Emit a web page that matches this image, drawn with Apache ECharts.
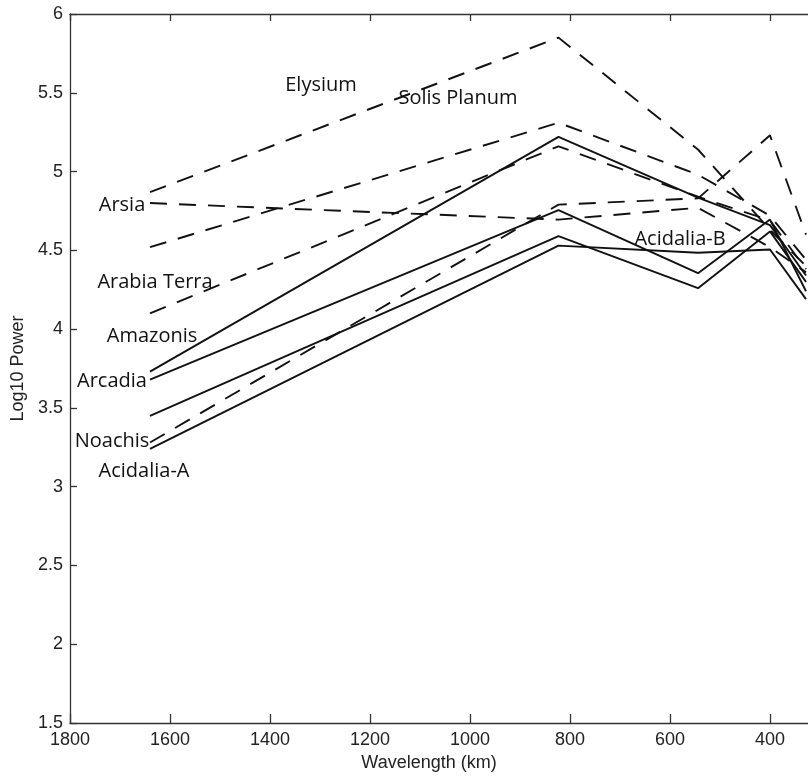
<!DOCTYPE html>
<html>
<head>
<meta charset="utf-8">
<script src="https://cdn.jsdelivr.net/npm/echarts@6/dist/echarts.min.js"></script>
<style>
  html, body { margin: 0; padding: 0; background: #fff; }
  #chart { width: 808px; height: 776px; }
</style>
</head>
<body>
<div id="chart"></div>
<script>
// Wavelengths (km) of the sampled points
const wavelengths = [1640, 823, 544, 400, 328];

// Log10 power per region
const elysium     = [4.87, 5.85, 5.14, 4.63, 4.40];
const arsia       = [4.80, 4.695, 4.77, 4.52, 4.36];
const solisPlanum = [4.52, 5.31, 4.98, 4.72, 4.44];
const arabiaTerra = [4.10, 5.16, 4.84, 4.69, 4.38];
const amazonis    = [3.73, 5.22, 4.835, 4.66, 4.34];
const arcadia     = [3.68, 4.755, 4.355, 4.695, 4.24];
const acidaliaB   = [3.45, 4.59, 4.26, 4.62, 4.30];
const noachis     = [3.28, 4.79, 4.83, 5.23, 4.60];
const acidaliaA   = [3.24, 4.53, 4.485, 4.505, 4.19];

// Axis ranges / ticks
const xMin = 200, xMax = 1800, xStep = 200;
const yMin = 1.5, yMax = 6, yStep = 0.5;

const regionLabels = ['Elysium', 'Solis Planum', 'Arsia', 'Arabia Terra', 'Amazonis',
                      'Arcadia', 'Noachis', 'Acidalia-A', 'Acidalia-B'];

const seriesDefs = [
  { name: 'Elysium', values: elysium, dashed: true },
  { name: 'Arsia', values: arsia, dashed: true },
  { name: 'Solis Planum', values: solisPlanum, dashed: true },
  { name: 'Arabia Terra', values: arabiaTerra, dashed: true },
  { name: 'Amazonis', values: amazonis, dashed: false },
  { name: 'Arcadia', values: arcadia, dashed: false },
  { name: 'Acidalia-B', values: acidaliaB, dashed: false },
  { name: 'Noachis', values: noachis, dashed: true },
  { name: 'Acidalia-A', values: acidaliaA, dashed: false }
];

const chart = echarts.init(document.getElementById('chart'), null, { renderer: 'canvas' });

const axisFont = 'Liberation Sans, Arial, Helvetica, sans-serif';
const labelFont = '"Open Sans", "Noto Sans", sans-serif';

// label placement (pixel positions, style only)
const labelPos = {
  'Elysium': [321, 85],
  'Solis Planum': [458, 98],
  'Arsia': [122, 205],
  'Arabia Terra': [155, 282],
  'Amazonis': [152, 336],
  'Arcadia': [112, 381],
  'Noachis': [112, 441],
  'Acidalia-A': [144, 471],
  'Acidalia-B': [680, 239]
};

const option = {
  animation: false,
  backgroundColor: '#ffffff',
  grid: { left: 70, right: -62, top: 14, bottom: 53, containLabel: false, outerBoundsMode: 'none' },
  xAxis: [
    {
      type: 'value', inverse: true, min: xMin, max: xMax, interval: xStep,
      position: 'bottom',
      name: 'Wavelength (km)', nameLocation: 'middle', nameGap: 30,
      nameTextStyle: { fontFamily: axisFont, fontSize: 18, color: '#222', padding: [0, 82, 0, 0] },
      axisLine: { show: true, lineStyle: { color: '#333', width: 1.3 } },
      axisTick: { show: true, inside: true, length: 9, lineStyle: { color: '#333', width: 1.3 } },
      axisLabel: { fontFamily: axisFont, fontSize: 18, color: '#222', margin: 8, showMinLabel: false,
                   formatter: v => String(v) },
      splitLine: { show: false }
    },
    {
      type: 'value', inverse: true, min: xMin, max: xMax, interval: xStep,
      position: 'top',
      axisLine: { show: true, lineStyle: { color: '#333', width: 1.3 } },
      axisTick: { show: true, inside: true, length: 7, lineStyle: { color: '#333', width: 1.3 } },
      axisLabel: { show: false },
      splitLine: { show: false }
    }
  ],
  yAxis: {
    type: 'value', min: yMin, max: yMax, interval: yStep,
    name: 'Log10 Power', nameLocation: 'middle', nameGap: 43,
    nameTextStyle: { fontFamily: axisFont, fontSize: 18, color: '#222' },
    axisLine: { show: true, lineStyle: { color: '#333', width: 1.3 } },
    axisTick: { show: true, inside: true, length: 7, lineStyle: { color: '#333', width: 1.3 } },
    axisLabel: { fontFamily: axisFont, fontSize: 18, color: '#222', margin: 7 },
    splitLine: { show: false }
  },
  series: seriesDefs.map(d => ({
    name: d.name,
    type: 'line',
    xAxisIndex: 0,
    data: wavelengths.map((w, i) => [w, d.values[i]]),
    showSymbol: false,
    symbol: 'none',
    lineStyle: { color: '#111', width: 1.9, type: d.dashed ? [17, 12] : 'solid' },
    z: 3
  })),
  graphic: regionLabels.map(name => ({
    type: 'text',
    x: labelPos[name][0],
    y: labelPos[name][1],
    z: 10,
    style: {
      text: name,
      font: '20px ' + labelFont,
      fill: '#111',
      textAlign: 'center',
      textVerticalAlign: 'middle'
    }
  }))
};

chart.setOption(option);
</script>
</body>
</html>
